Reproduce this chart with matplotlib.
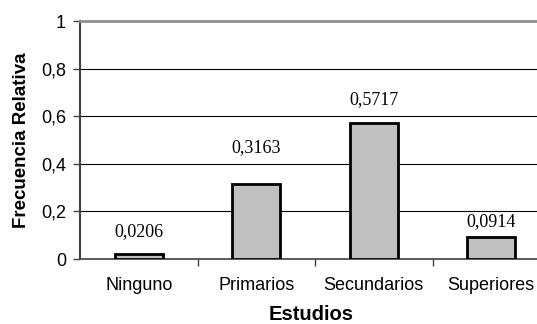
import matplotlib
matplotlib.use("Agg")
import matplotlib.pyplot as plt
from matplotlib.ticker import FixedLocator, FuncFormatter

# datos: frecuencia relativa por nivel de estudios
estudios = ["Ninguno", "Primarios", "Secundarios", "Superiores"]
frecuencia = [0.0206, 0.3163, 0.5717, 0.0914]
etiquetas = ["0,0206", "0,3163", "0,5717", "0,0914"]
yticks = [0, 0.2, 0.4, 0.6, 0.8, 1]
desplazamiento = [16, 26, 16.5, 11.5]  # separacion de la etiqueta sobre la barra (pt)

fig = plt.figure(figsize=(5.37, 3.24), dpi=100)
ax = fig.add_axes([80 / 537, 1 - 259 / 324, 470 / 537, 238 / 324])

x = range(len(estudios))
ax.bar(x, frecuencia, width=0.41, color="#c0c0c0", edgecolor="black", linewidth=2, zorder=3)

for i, v in enumerate(frecuencia):
    ax.annotate(etiquetas[i], (i, v), xytext=(0, desplazamiento[i]), textcoords="offset points",
                ha="center", va="center", fontsize=13, family="Liberation Serif")

ax.set_xlim(-0.5, 3.5)
ax.set_ylim(0, 1)
ax.set_yticks(yticks)
ax.yaxis.set_major_formatter(FuncFormatter(lambda v, p: ("%g" % v).replace(".", ",")))
for g in yticks[1:-1]:
    ax.axhline(g, color="black", lw=0.8, zorder=1)

ax.set_xticks(list(x))
ax.set_xticklabels(estudios)
ax.xaxis.set_minor_locator(FixedLocator([0.5, 1.5, 2.5]))
ax.tick_params(axis="x", which="major", length=0, pad=13, labelsize=13)
ax.tick_params(axis="x", which="minor", length=5, width=1, color="#404040")
ax.tick_params(axis="y", length=5, width=1, color="#404040", labelsize=13, pad=5)
for lab in ax.get_xticklabels() + ax.get_yticklabels():
    lab.set_family("Liberation Sans")

ax.spines["right"].set_visible(False)
ax.spines["left"].set_color("#404040")
ax.spines["left"].set_linewidth(1.5)
ax.spines["bottom"].set_color("#404040")
ax.spines["bottom"].set_linewidth(1.2)
ax.spines["top"].set_color("#909090")
ax.spines["top"].set_linewidth(2)

ax.set_xlabel("Estudios", fontsize=14.5, fontweight="bold", family="Liberation Sans", va="center")
ax.xaxis.set_label_coords(231.5 / 470, -56 / 238)
ax.set_ylabel("Frecuencia Relativa", fontsize=13.5, fontweight="bold", family="Liberation Sans", va="center")
ax.yaxis.set_label_coords(-59 / 470, 0.5)

fig.savefig("out.png", dpi=100)
